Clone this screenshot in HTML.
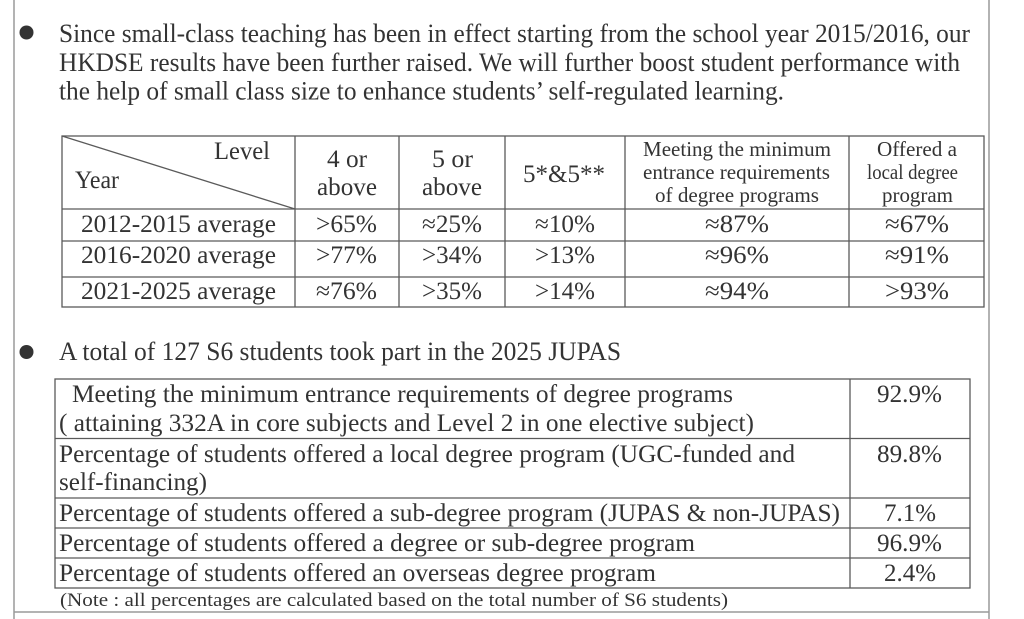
<!DOCTYPE html>
<html><head><meta charset="utf-8"><style>
html,body{margin:0;padding:0;background:#fff;}
svg{display:block;}
text{font-family:"Liberation Serif","Times New Roman",serif;fill:#333;}
.p{font-size:26px;}
.t{font-size:25px;}
.s{font-size:21px;}
.n{font-size:19px;}
</style></head><body>
<svg width="1024" height="619" viewBox="0 0 1024 619" xmlns="http://www.w3.org/2000/svg">
<rect width="1024" height="619" fill="#fff"/>
<!-- frame -->
<g stroke="#9a9a9a" stroke-width="1.5">
<line x1="14" y1="0" x2="14" y2="619"/>
<line x1="989" y1="0" x2="989" y2="619"/>
<line x1="14" y1="612" x2="989" y2="612"/>
</g>
<!-- bullets -->
<circle cx="26.5" cy="32.5" r="7" fill="#333"/>
<circle cx="26.5" cy="352" r="7" fill="#333"/>
<!-- paragraph -->
<text class="p" x="59" y="42" textLength="911" lengthAdjust="spacingAndGlyphs">Since small-class teaching has been in effect starting from the school year 2015/2016, our</text>
<text class="p" x="59" y="71" textLength="901" lengthAdjust="spacingAndGlyphs">HKDSE results have been further raised. We will further boost student performance with</text>
<text class="p" x="59" y="99.5" textLength="725" lengthAdjust="spacingAndGlyphs">the help of small class size to enhance students’ self-regulated learning.</text>

<!-- table 1 -->
<g stroke="#5a5a5a" stroke-width="1.3" fill="none">
<rect x="62" y="136" width="922" height="171"/>
<line x1="295" y1="136" x2="295" y2="307"/>
<line x1="399" y1="136" x2="399" y2="307"/>
<line x1="505" y1="136" x2="505" y2="307"/>
<line x1="625" y1="136" x2="625" y2="307"/>
<line x1="849" y1="136" x2="849" y2="307"/>
<line x1="62" y1="209" x2="984" y2="209"/>
<line x1="62" y1="241" x2="984" y2="241"/>
<line x1="62" y1="277" x2="984" y2="277"/>
<line x1="62" y1="136" x2="295" y2="209"/>
</g>
<text class="t" x="214" y="159" textLength="56" lengthAdjust="spacingAndGlyphs">Level</text>
<text class="t" x="75" y="188" textLength="44" lengthAdjust="spacingAndGlyphs">Year</text>
<text class="t" x="327" y="167" textLength="40" lengthAdjust="spacingAndGlyphs">4 or</text>
<text class="t" x="317" y="195" textLength="60" lengthAdjust="spacingAndGlyphs">above</text>
<text class="t" x="432" y="167" textLength="41" lengthAdjust="spacingAndGlyphs">5 or</text>
<text class="t" x="422" y="195" textLength="60" lengthAdjust="spacingAndGlyphs">above</text>
<text class="t" x="523" y="182" textLength="82" lengthAdjust="spacingAndGlyphs">5*&amp;5**</text>
<text class="s" x="643" y="156" textLength="188" lengthAdjust="spacingAndGlyphs">Meeting the minimum</text>
<text class="s" x="643" y="179" textLength="187" lengthAdjust="spacingAndGlyphs">entrance requirements</text>
<text class="s" x="655" y="202" textLength="164" lengthAdjust="spacingAndGlyphs">of degree programs</text>
<text class="s" x="877" y="156" textLength="80" lengthAdjust="spacingAndGlyphs">Offered a</text>
<text class="s" x="867" y="179" textLength="91" lengthAdjust="spacingAndGlyphs">local degree</text>
<text class="s" x="882" y="202" textLength="71" lengthAdjust="spacingAndGlyphs">program</text>

<text class="t" x="81" y="232" textLength="195" lengthAdjust="spacingAndGlyphs">2012-2015 average</text>
<text class="t" x="81" y="263" textLength="195" lengthAdjust="spacingAndGlyphs">2016-2020 average</text>
<text class="t" x="81" y="299" textLength="195" lengthAdjust="spacingAndGlyphs">2021-2025 average</text>

<text class="t" x="316" y="232" textLength="61" lengthAdjust="spacingAndGlyphs">&gt;65%</text>
<text class="t" x="316" y="263" textLength="61" lengthAdjust="spacingAndGlyphs">&gt;77%</text>
<text class="t" x="316" y="299" textLength="61" lengthAdjust="spacingAndGlyphs">≈76%</text>

<text class="t" x="422" y="232" textLength="60" lengthAdjust="spacingAndGlyphs">≈25%</text>
<text class="t" x="422" y="263" textLength="60" lengthAdjust="spacingAndGlyphs">&gt;34%</text>
<text class="t" x="422" y="299" textLength="60" lengthAdjust="spacingAndGlyphs">&gt;35%</text>

<text class="t" x="535" y="232" textLength="60" lengthAdjust="spacingAndGlyphs">≈10%</text>
<text class="t" x="535" y="263" textLength="60" lengthAdjust="spacingAndGlyphs">&gt;13%</text>
<text class="t" x="535" y="299" textLength="60" lengthAdjust="spacingAndGlyphs">&gt;14%</text>

<text class="t" x="705" y="232" textLength="64" lengthAdjust="spacingAndGlyphs">≈87%</text>
<text class="t" x="705" y="263" textLength="64" lengthAdjust="spacingAndGlyphs">≈96%</text>
<text class="t" x="705" y="299" textLength="64" lengthAdjust="spacingAndGlyphs">≈94%</text>

<text class="t" x="885" y="232" textLength="64" lengthAdjust="spacingAndGlyphs">≈67%</text>
<text class="t" x="885" y="263" textLength="64" lengthAdjust="spacingAndGlyphs">≈91%</text>
<text class="t" x="885" y="299" textLength="64" lengthAdjust="spacingAndGlyphs">&gt;93%</text>

<!-- section 2 -->
<text class="p" x="59" y="360" textLength="562" lengthAdjust="spacingAndGlyphs">A total of 127 S6 students took part in the 2025 JUPAS</text>

<g stroke="#5a5a5a" stroke-width="1.3" fill="none">
<rect x="55" y="379" width="915" height="209"/>
<line x1="850" y1="379" x2="850" y2="588"/>
<line x1="55" y1="438.5" x2="970" y2="438.5"/>
<line x1="55" y1="498" x2="970" y2="498"/>
<line x1="55" y1="528" x2="970" y2="528"/>
<line x1="55" y1="558" x2="970" y2="558"/>
</g>
<text class="t" x="72" y="402" textLength="661" lengthAdjust="spacingAndGlyphs">Meeting the minimum entrance requirements of degree programs</text>
<text class="t" x="59" y="431" textLength="695" lengthAdjust="spacingAndGlyphs">( attaining 332A in core subjects and Level 2 in one elective subject)</text>
<text class="t" x="59" y="462" textLength="736" lengthAdjust="spacingAndGlyphs">Percentage of students offered a local degree program (UGC-funded and</text>
<text class="t" x="59" y="490" textLength="148" lengthAdjust="spacingAndGlyphs">self-financing)</text>
<text class="t" x="59" y="521" textLength="781" lengthAdjust="spacingAndGlyphs">Percentage of students offered a sub-degree program (JUPAS &amp; non-JUPAS)</text>
<text class="t" x="59" y="551" textLength="636" lengthAdjust="spacingAndGlyphs">Percentage of students offered a degree or sub-degree program</text>
<text class="t" x="59" y="581" textLength="597" lengthAdjust="spacingAndGlyphs">Percentage of students offered an overseas degree program</text>

<text class="t" x="877" y="402" textLength="65" lengthAdjust="spacingAndGlyphs">92.9%</text>
<text class="t" x="877" y="462" textLength="65" lengthAdjust="spacingAndGlyphs">89.8%</text>
<text class="t" x="884" y="521" textLength="52" lengthAdjust="spacingAndGlyphs">7.1%</text>
<text class="t" x="877" y="551" textLength="65" lengthAdjust="spacingAndGlyphs">96.9%</text>
<text class="t" x="884" y="581" textLength="52" lengthAdjust="spacingAndGlyphs">2.4%</text>

<text class="n" x="60" y="606" textLength="668" lengthAdjust="spacingAndGlyphs">(Note : all percentages are calculated based on the total number of S6 students)</text>
</svg>
</body></html>
